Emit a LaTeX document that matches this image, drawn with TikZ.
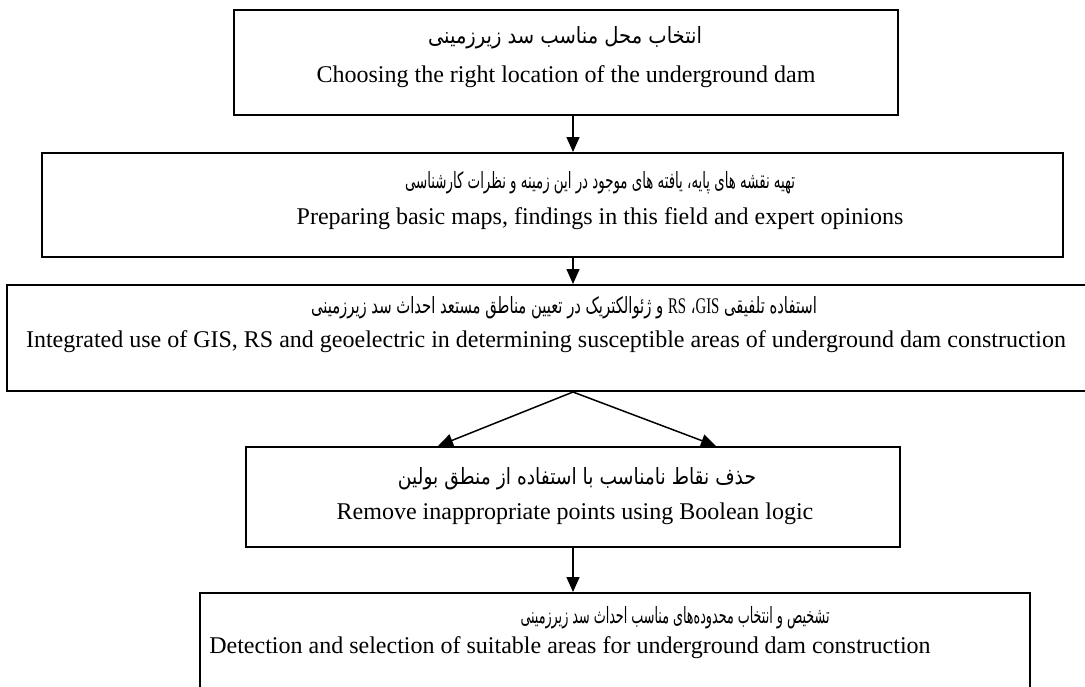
\documentclass[tikz,border=0pt]{standalone}
\usepackage{fontspec}
\usepackage{graphicx}
\setmainfont{Liberation Serif}
\newfontfamily\arabicfont[Script=Arabic]{DejaVu Sans}
\TeXXeTstate=1
\usetikzlibrary{arrows.meta}
\newcommand{\faline}[2]{\resizebox{#1}{17pt}{\arabicfont #2}}
\tikzset{
  box/.style={draw=black, line width=2pt, rectangle, inner sep=0pt, fill=none},
  txt/.style={inner sep=0pt, anchor=center, font=\fontsize{24}{28}\selectfont},
  arr/.style={line width=1.5pt, -{Triangle[length=15pt,width=13pt]}}
}
\begin{document}
\begin{tikzpicture}[x=1pt,y=-1pt]
\useasboundingbox (0,0) rectangle (1085,686);
\fill[white] (0,0) rectangle (1085,686);
\clip (0,0) rectangle (1085,686);
% boxes
\node[box, minimum width=664pt, minimum height=105pt] (b1) at (566,62.5) {};
\node[box, minimum width=1021pt, minimum height=104pt] (b2) at (552.5,205) {};
\node[box, minimum width=1088pt, minimum height=106pt] (b3) at (551,338) {};
\node[box, minimum width=654pt, minimum height=100pt] (b4) at (573,497) {};
\node[box, minimum width=830pt, minimum height=107pt] (b5) at (615,646.5) {};
% texts
\node[txt] (b1fa) at (565,38) {\faline{274pt}{\beginR انتخاب محل مناسب سد زیرزمینی\endR}};
\node[txt] (b1en) at (566,77) {Choosing the right location of the underground dam};
\node[txt] (b2fa) at (600,183) {\faline{390pt}{\beginR تهیه نقشه های پایه، یافته های موجود در این زمینه و نظرات کارشناسی\endR}};
\node[txt] (b2en) at (600,219) {Preparing basic maps, findings in this field and expert opinions};
\node[txt] (b3fa) at (564,308) {\faline{506pt}{\beginR استفاده تلفیقی {\rmfamily\beginL GIS\endL}، {\rmfamily\beginL RS\endL} و ژئوالکتریک در تعیین مناطق مستعد احداث سد زیرزمینی\endR}};
\node[txt] (b3en) at (546,342) {Integrated use of GIS, RS and geoelectric in determining susceptible areas of underground dam construction};
\node[txt] (b4fa) at (577,479) {\faline{358pt}{\beginR حذف نقاط نامناسب با استفاده از منطق بولین\endR}};
\node[txt] (b4en) at (575,514) {Remove inappropriate points using Boolean logic};
\node[txt] (b5fa) at (675,618) {\faline{309pt}{\beginR تشخیص و انتخاب محدوده‌های مناسب احداث سد زیرزمینی\endR}};
\node[txt] (b5en) at (570,648) {Detection and selection of suitable areas for underground dam construction};
% arrows
\coordinate (ax) at (573,0);
\coordinate (l4) at (438,0);
\coordinate (r4) at (716,0);
\draw[arr] (b1.south -| ax) -- (b2.north -| ax);
\draw[arr] (b2.south -| ax) -- (b3.north -| ax);
\draw[arr] (b3.south -| ax) -- (b4.north -| l4);
\draw[arr] (b3.south -| ax) -- (b4.north -| r4);
\draw[arr] (b4.south -| ax) -- (b5.north -| ax);
\end{tikzpicture}
\end{document}
